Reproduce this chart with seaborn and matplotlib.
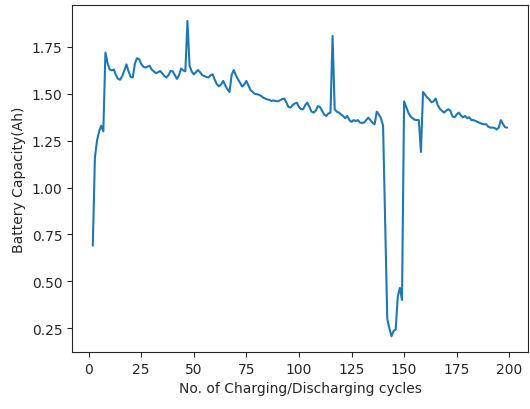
import numpy as np
import pandas as pd
import matplotlib
matplotlib.use("Agg")
import matplotlib.pyplot as plt
import seaborn as sns

# Measured discharge capacity per charging/discharging cycle (starting at cycle 2)
first_cycle = 2
capacity_ah = [
    0.69, 1.16, 1.25, 1.30, 1.33, 1.30, 1.72, 1.665, 1.63, 1.625,
    1.63, 1.60, 1.58, 1.575, 1.595, 1.625, 1.657, 1.62, 1.59, 1.587,
    1.66, 1.69, 1.685, 1.66, 1.645, 1.64, 1.645, 1.65, 1.63, 1.62,
    1.61, 1.615, 1.622, 1.61, 1.595, 1.587, 1.60, 1.622, 1.62, 1.60,
    1.58, 1.60, 1.635, 1.625, 1.62, 1.889, 1.65, 1.62, 1.604, 1.615,
    1.627, 1.615, 1.60, 1.595, 1.59, 1.587, 1.60, 1.604, 1.575, 1.551,
    1.54, 1.55, 1.569, 1.545, 1.524, 1.51, 1.60, 1.627, 1.60, 1.578,
    1.56, 1.539, 1.55, 1.569, 1.545, 1.52, 1.51, 1.50, 1.498, 1.495,
    1.489, 1.48, 1.475, 1.47, 1.468, 1.462, 1.465, 1.462, 1.46, 1.465,
    1.472, 1.475, 1.455, 1.43, 1.427, 1.44, 1.448, 1.453, 1.43, 1.418,
    1.418, 1.44, 1.453, 1.43, 1.405, 1.40, 1.41, 1.435, 1.43, 1.41,
    1.39, 1.382, 1.395, 1.40, 1.809, 1.418, 1.405, 1.40, 1.39, 1.382,
    1.37, 1.382, 1.36, 1.35, 1.36, 1.355, 1.36, 1.347, 1.345, 1.347,
    1.36, 1.373, 1.36, 1.345, 1.338, 1.405, 1.39, 1.37, 1.33, 0.82,
    0.30, 0.25, 0.207, 0.235, 0.243, 0.42, 0.465, 0.40, 1.46, 1.43,
    1.40, 1.38, 1.37, 1.362, 1.36, 1.36, 1.19, 1.51, 1.495, 1.48,
    1.47, 1.455, 1.46, 1.475, 1.44, 1.42, 1.41, 1.40, 1.41, 1.418,
    1.41, 1.38, 1.375, 1.39, 1.40, 1.385, 1.375, 1.382, 1.37, 1.375,
    1.36, 1.36, 1.355, 1.35, 1.345, 1.34, 1.338, 1.338, 1.325, 1.32,
    1.32, 1.318, 1.31, 1.32, 1.36, 1.34, 1.322, 1.32,
]
cycles = np.arange(first_cycle, first_cycle + len(capacity_ah))

x_label = "No. of Charging/Discharging cycles"
y_label = "Battery Capacity(Ah)"

df = pd.DataFrame({"cycle": cycles, "capacity": capacity_ah})

sns.set_style("ticks")
plt.rcParams["font.family"] = ["DejaVu Sans"]

fig, ax = plt.subplots(figsize=(5.3, 4.1), dpi=100)
fig.subplots_adjust(left=0.136, right=0.996, top=0.985, bottom=0.139)

sns.lineplot(data=df, x="cycle", y="capacity", color="#1f77b4",
             linewidth=1.5, ax=ax)

ax.set_xticks([0, 25, 50, 75, 100, 125, 150, 175, 200])
ax.set_yticks([0.25, 0.50, 0.75, 1.00, 1.25, 1.50, 1.75])
ax.set_xlabel(x_label, fontsize=10)
ax.set_ylabel(y_label, fontsize=10)
ax.tick_params(labelsize=10)

fig.savefig("out.png", dpi=100)
